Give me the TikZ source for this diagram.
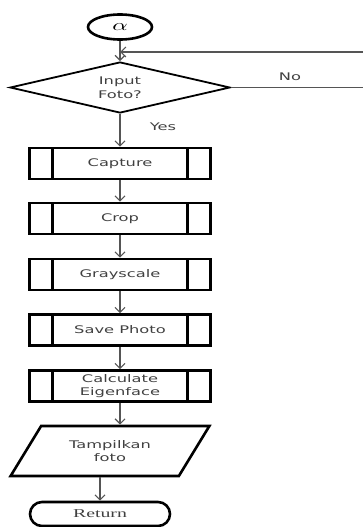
\documentclass[tikz,border=0pt]{standalone}
\usepackage{fontspec}
\usetikzlibrary{arrows.meta,shapes.geometric,shapes.misc}
\newfontfamily\boxfont{DejaVu Sans}
\newfontfamily\serfont{Liberation Serif}
\newcommand{\sx}[1]{\scalebox{1.55}[1]{#1}}
\newcommand{\sr}[1]{\scalebox{1.65}[1]{#1}}
\definecolor{txt}{HTML}{404040}
\definecolor{ln}{HTML}{555555}
\begin{document}
\begin{tikzpicture}[x=1pt,y=-1pt,
  arr/.style={draw=ln, line width=1.2pt, -{Straight Barb[length=5pt,width=10pt]}},
  plain/.style={draw=ln, line width=1.2pt},
  lbl/.style={font=\boxfont\fontsize{10.5}{13.5}\selectfont, text=txt},
  proc/.style={draw, line width=2.6pt, minimum width=181pt, minimum height=31pt,
    inner sep=0pt, align=center, lbl,
    path picture={
      \draw[line width=2.6pt] ([xshift=23pt]path picture bounding box.south west) -- ([xshift=23pt]path picture bounding box.north west);
      \draw[line width=2.6pt] ([xshift=-23pt]path picture bounding box.south east) -- ([xshift=-23pt]path picture bounding box.north east);}},
  decis/.style={shape=diamond, draw, line width=1.8pt, minimum width=220pt, minimum height=51pt,
    inner sep=0pt, aspect=4.3, align=center, lbl},
  iobox/.style={trapezium, trapezium left angle=50, trapezium right angle=130, trapezium stretches=true,
    draw, line width=2.6pt, minimum width=199pt, minimum height=50pt, inner sep=0pt, align=center, lbl},
  term/.style={draw, line width=2.6pt, text=txt}
]
\useasboundingbox (0,0) rectangle (363,527);

\node[term, ellipse, minimum width=64pt, minimum height=25pt, inner sep=0pt, text=black] (alpha) at (120,27) {\scalebox{2.4}[1.6]{$\alpha$}};
\node[decis] (dec) at (120,87.5) {\sx{Input}\\\sx{Foto?}};
\node[proc] (cap) at (120,163.5) {\sx{Capture}};
\node[proc] (crop) at (120,218.5) {\sx{Crop}};
\node[proc] (gray) at (120,274.5) {\sx{Grayscale}};
\node[proc] (save) at (120,330) {\sx{Save Photo}};
\node[proc] (eig) at (120,386) {\sx{Calculate}\\\sx{Eigenface}};
\node[iobox] (tamp) at (110,451) {\sx{Tampilkan}\\\sx{foto}};
\node[term, rounded rectangle, minimum width=140pt, minimum height=24pt, inner sep=0pt,
  font=\serfont\fontsize{12}{14}\selectfont] (ret) at (100,514) {\sr{Return}};

\node[lbl] (no) at (290,77) {\sx{No}};
\node[lbl] (yes) at (163,127) {\sx{Yes}};

\coordinate (fbR) at (366,52);
\coordinate (fbL) at (alpha.south |- fbR);

\draw[arr] (alpha) -- (dec);
\draw[plain] (dec.east) -- (dec.east -| fbR) -- (fbR);
\draw[arr] (fbR) -- (fbL);
\draw[arr] (dec) -- (cap);
\draw[arr] (cap) -- (crop);
\draw[arr] (crop) -- (gray);
\draw[arr] (gray) -- (save);
\draw[arr] (save) -- (eig);
\draw[arr] (eig.south) -- (eig.south |- tamp.north);
\draw[arr] (ret.north |- tamp.south) -- (ret.north);
\end{tikzpicture}
\end{document}
